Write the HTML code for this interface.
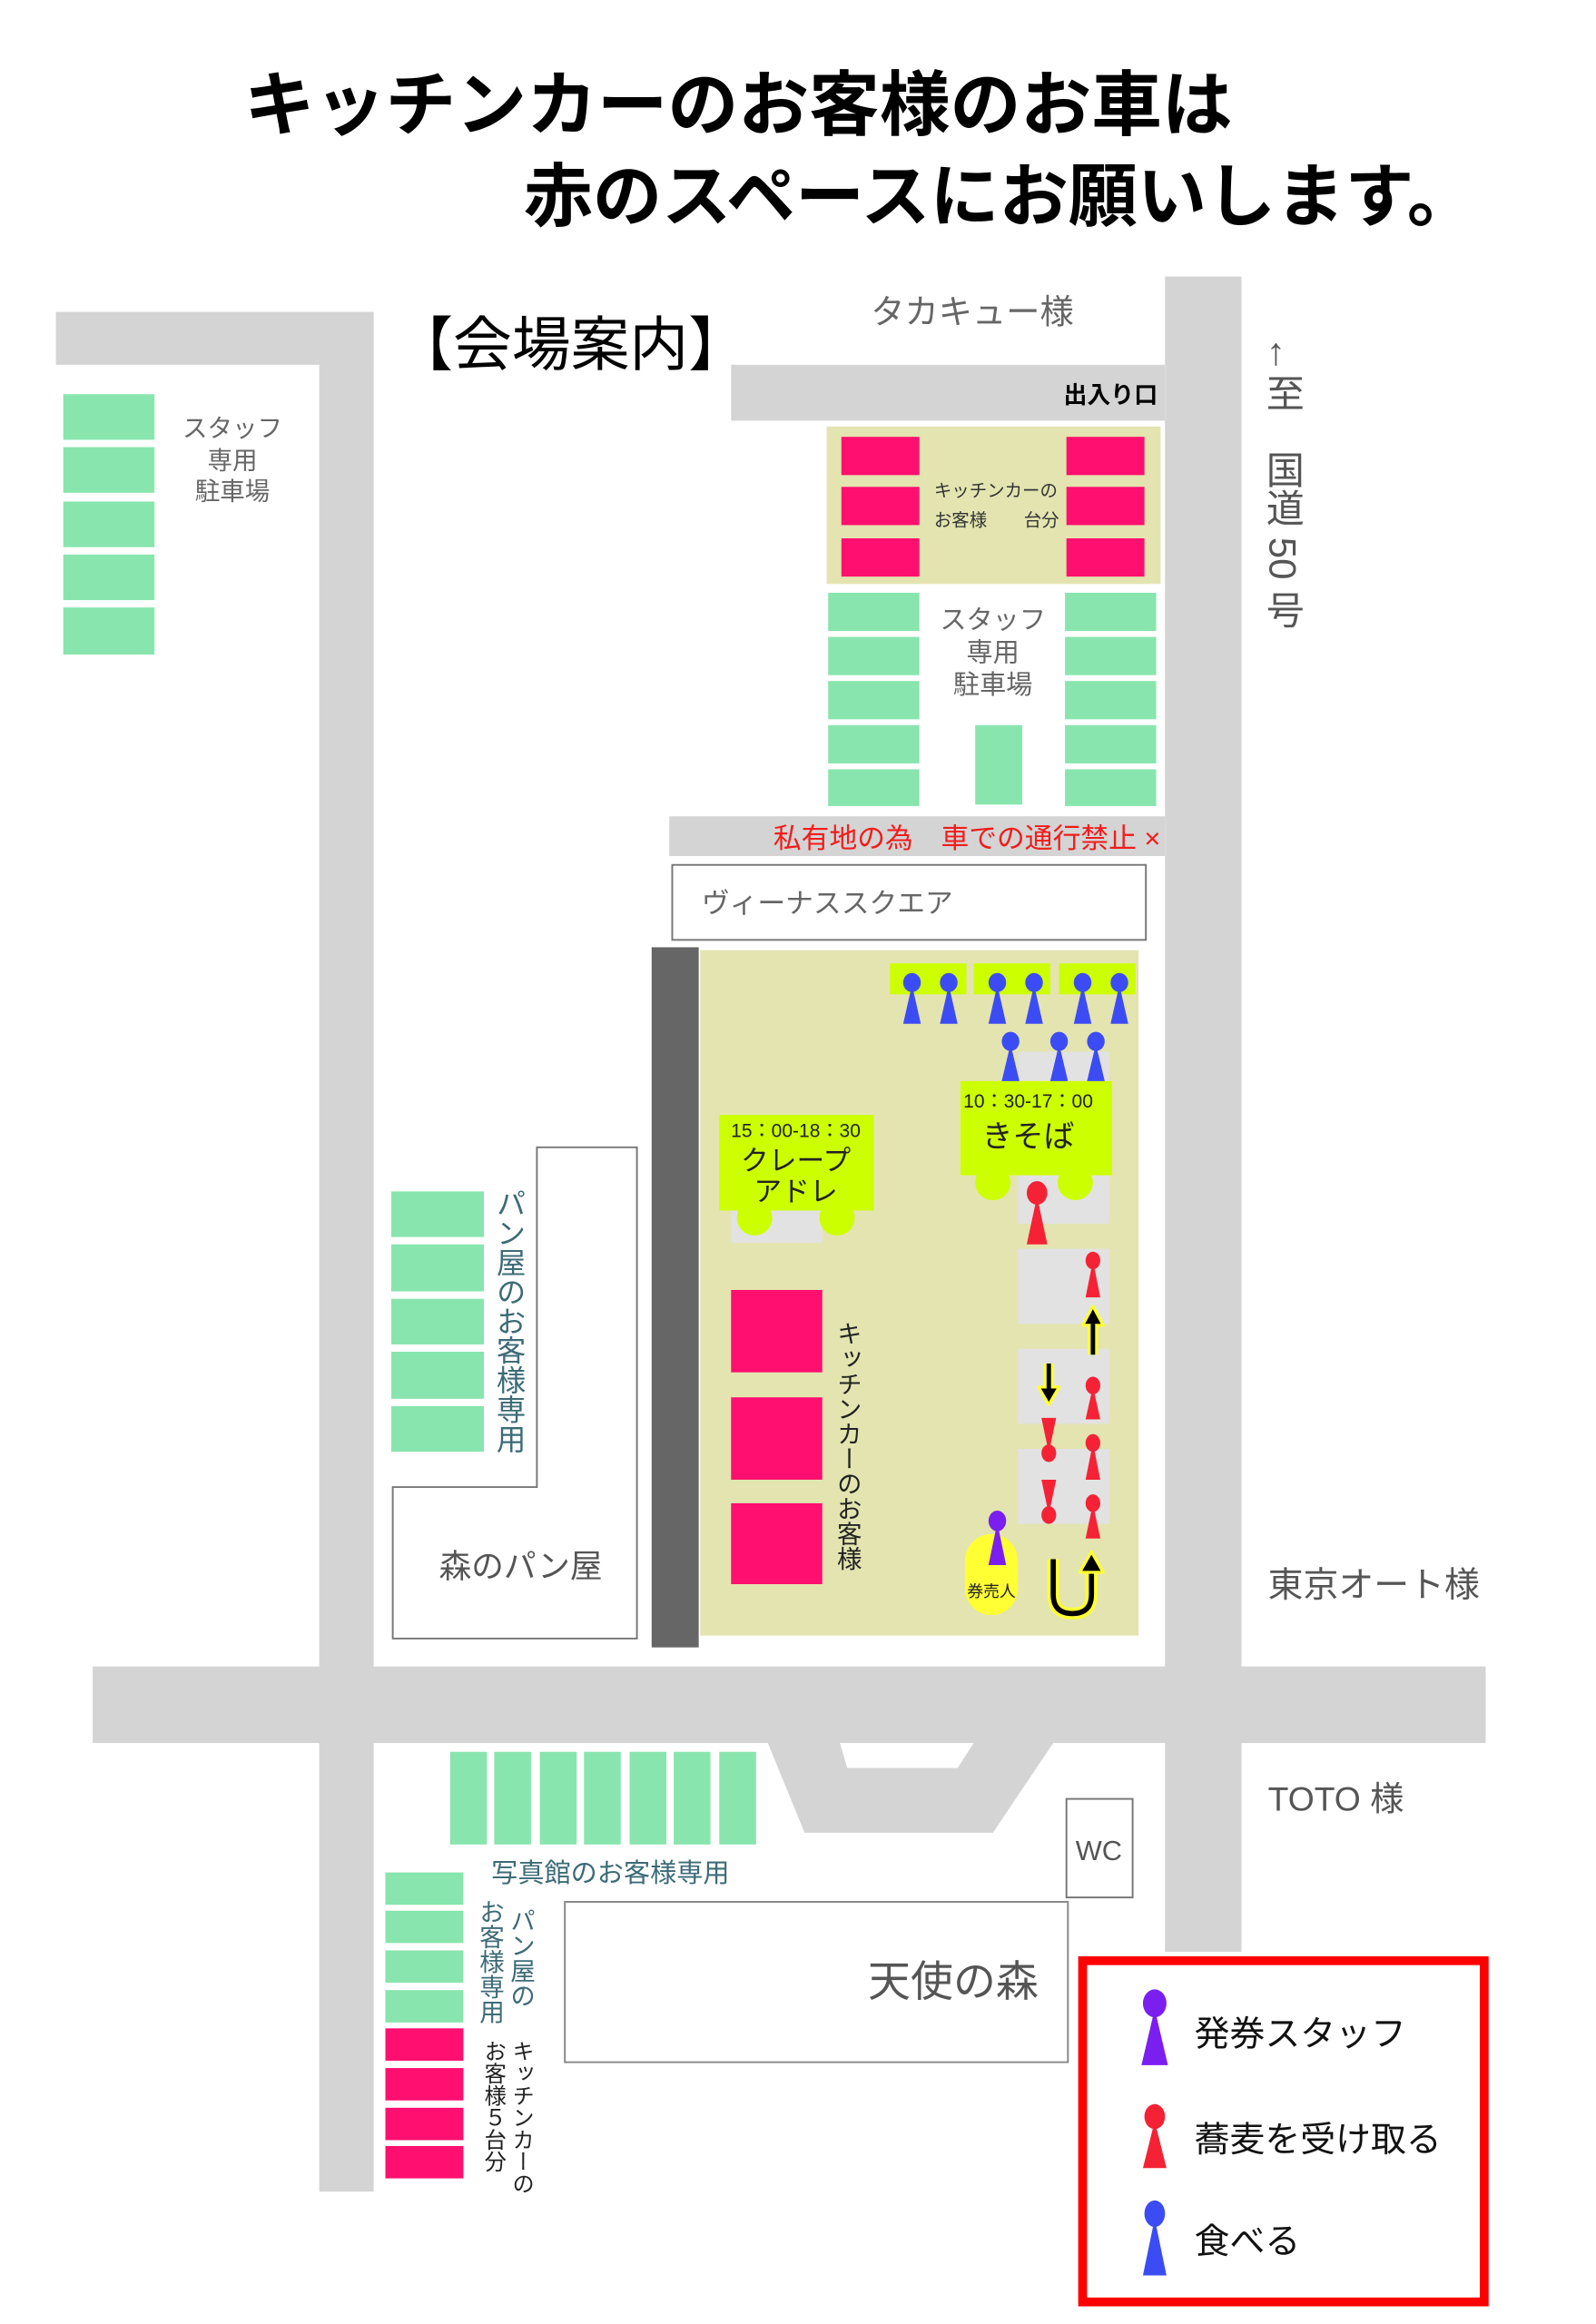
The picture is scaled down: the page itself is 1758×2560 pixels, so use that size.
<!DOCTYPE html>
<html><head><meta charset="utf-8"><style>
html,body{margin:0;padding:0;background:#fff;}
svg{display:block;}
text{font-family:"Liberation Sans","Noto Sans CJK JP",sans-serif;}
.v{writing-mode:vertical-rl;}
</style></head><body>
<svg width="1758" height="2560" viewBox="0 0 1085 1580" xmlns="http://www.w3.org/2000/svg">
<rect width="1085" height="1580" fill="#fff"/>
<text x="166" y="88" font-size="48" font-weight="bold" fill="#000">キッチンカーのお客様のお車は</text>
<text x="356" y="150" font-size="47" font-weight="bold" fill="#000">赤のスペースにお願いします。</text>

<g fill="#d4d4d4">
<rect x="38" y="212" width="216" height="36"/>
<rect x="217" y="212" width="37" height="1278"/>
<rect x="792" y="188" width="52" height="1139"/>
<rect x="497" y="248" width="295" height="38"/>
<rect x="455" y="555" width="337" height="27"/>
<rect x="63" y="1133" width="947" height="52"/>
<polygon points="522,1185 716,1185 675,1246 547,1246"/>
</g>
<polygon points="571,1185 662,1185 651,1202 576,1202" fill="#fff"/>

<text x="268" y="248" font-size="40" fill="#000">【会場案内】</text>
<text x="592" y="220" font-size="23" fill="#666">タカキュー様</text>
<text x="787" y="274" font-size="16" font-weight="bold" fill="#000" text-anchor="end">出入り口</text>
<text x="872" y="228" font-size="26" fill="#555" class="v">←至　国道 50 号</text>

<g fill="#88e5ad">
<rect x="43" y="268" width="62" height="31"/>
<rect x="43" y="304" width="62" height="31"/>
<rect x="43" y="341" width="62" height="31"/>
<rect x="43" y="377" width="62" height="31"/>
<rect x="43" y="413" width="62" height="32"/>
</g>
<g font-size="17" fill="#666" text-anchor="middle" dominant-baseline="central">
<text x="158" y="291">スタッフ</text><text x="158" y="313">専用</text><text x="158" y="334">駐車場</text>
</g>

<rect x="562" y="290" width="227" height="107" fill="#e3e4b0"/>
<g fill="#ff0f6f">
<rect x="572" y="297" width="53" height="26"/><rect x="572" y="331" width="53" height="26"/><rect x="572" y="366" width="53" height="26"/>
<rect x="725" y="297" width="53" height="26"/><rect x="725" y="331" width="53" height="26"/><rect x="725" y="366" width="53" height="26"/>
</g>
<text x="677" y="334" font-size="12" fill="#333" text-anchor="middle" dominant-baseline="central">キッチンカーの</text>
<text x="635" y="354" font-size="12" fill="#333" dominant-baseline="central">お客様</text>
<text x="720" y="354" font-size="12" fill="#333" text-anchor="end" dominant-baseline="central">台分</text>

<g fill="#88e5ad">
<rect x="563" y="403" width="62" height="26"/><rect x="563" y="433" width="62" height="26"/><rect x="563" y="463" width="62" height="26"/><rect x="563" y="493" width="62" height="26"/><rect x="563" y="523" width="62" height="25"/>
<rect x="724" y="403" width="62" height="26"/><rect x="724" y="433" width="62" height="26"/><rect x="724" y="463" width="62" height="26"/><rect x="724" y="493" width="62" height="26"/><rect x="724" y="523" width="62" height="25"/>
<rect x="663" y="493" width="32" height="54"/>
</g>
<g font-size="18" fill="#666" text-anchor="middle" dominant-baseline="central">
<text x="675" y="422">スタッフ</text><text x="675" y="444">専用</text><text x="675" y="466">駐車場</text>
</g>
<text x="789" y="570" font-size="19" fill="#f21c1c" text-anchor="end" dominant-baseline="central">私有地の為　車での通行禁止 ×</text>

<rect x="457" y="588" width="322" height="51" fill="#fff" stroke="#777" stroke-width="1.2"/>
<text x="477" y="614" font-size="19" fill="#666" dominant-baseline="central">ヴィーナススクエア</text>

<rect x="443" y="644" width="32" height="476" fill="#666"/>
<rect x="476" y="646" width="298" height="466" fill="#e3e4b0"/>
<g fill="#ccff00">
<rect x="605" y="655" width="52" height="21"/><rect x="662" y="655" width="52" height="21"/><rect x="720" y="655" width="52" height="21"/>
</g>
<g fill="#e2e2e2">
<rect x="692" y="715" width="62" height="20"/>
<rect x="692" y="799" width="62" height="33"/>
<rect x="497" y="823" width="62" height="22"/>
<rect x="692" y="849" width="62" height="51"/>
<rect x="692" y="917" width="62" height="51"/>
<rect x="692" y="985" width="62" height="51"/>
</g>
<rect x="653" y="735" width="103" height="64" fill="#ccff00"/>
<circle cx="675" cy="804" r="12" fill="#ccff00"/><circle cx="731" cy="804" r="12" fill="#ccff00"/>
<text x="699" y="749" font-size="13" fill="#222" text-anchor="middle" dominant-baseline="central">10：30-17：00</text>
<text x="699" y="773" font-size="21" fill="#222" text-anchor="middle" dominant-baseline="central">きそば</text>
<rect x="489" y="758" width="105" height="65" fill="#ccff00"/>
<circle cx="513" cy="828" r="12" fill="#ccff00"/><circle cx="569" cy="828" r="12" fill="#ccff00"/>
<text x="541" y="769" font-size="13" fill="#222" text-anchor="middle" dominant-baseline="central">15：00-18：30</text>
<text x="541" y="789" font-size="19" fill="#222" text-anchor="middle" dominant-baseline="central">クレープ</text>
<text x="541" y="810" font-size="19" fill="#222" text-anchor="middle" dominant-baseline="central">アドレ</text>
<g fill="#ff0f6f">
<rect x="497" y="877" width="62" height="56"/><rect x="497" y="950" width="62" height="56"/><rect x="497" y="1022" width="62" height="55"/>
</g>
<text x="576" y="898" font-size="17" fill="#222" class="v">キッチンカーのお客様</text>

<g fill="#3c4cf5">
<ellipse cx="620" cy="668" rx="6" ry="6.5"/><polygon points="619,674 621,674 626,696 614,696"/>
<ellipse cx="645" cy="668" rx="6" ry="6.5"/><polygon points="644,674 646,674 651,696 639,696"/>
<ellipse cx="678" cy="668" rx="6" ry="6.5"/><polygon points="677,674 679,674 684,696 672,696"/>
<ellipse cx="703" cy="668" rx="6" ry="6.5"/><polygon points="702,674 704,674 709,696 697,696"/>
<ellipse cx="736" cy="668" rx="6" ry="6.5"/><polygon points="735,674 737,674 742,696 730,696"/>
<ellipse cx="761" cy="668" rx="6" ry="6.5"/><polygon points="760,674 762,674 767,696 755,696"/>
<ellipse cx="687" cy="708" rx="6" ry="6.5"/><polygon points="686,714 688,714 693,735 681,735"/>
<ellipse cx="720" cy="708" rx="6" ry="6.5"/><polygon points="719,714 721,714 726,735 714,735"/>
<ellipse cx="745" cy="708" rx="6" ry="6.5"/><polygon points="744,714 746,714 751,735 739,735"/>
</g>
<g fill="#f52235">
<ellipse cx="705" cy="811" rx="7" ry="8"/><polygon points="704,818 706,818 712,846 698,846"/>
<ellipse cx="743" cy="857" rx="5" ry="6"/><polygon points="742,862 744,862 748,882 738,882"/>
<ellipse cx="743" cy="942" rx="5" ry="6"/><polygon points="742,947 744,947 748,965 738,965"/>
<ellipse cx="743" cy="981" rx="5" ry="6"/><polygon points="742,986 744,986 748,1006 738,1006"/>
<ellipse cx="743" cy="1022" rx="5" ry="6"/><polygon points="742,1027 744,1027 748,1046 738,1046"/>
<polygon points="708,964 718,964 714,983 712,983"/><ellipse cx="713" cy="988" rx="5" ry="6"/>
<polygon points="708,1006 718,1006 714,1025 712,1025"/><ellipse cx="713" cy="1030" rx="5" ry="6"/>
</g>
<g stroke-linejoin="round">
<path d="M743,921 L743,900" stroke="#ffff33" stroke-width="7"/>
<polygon points="736,901 750,901 743,888" fill="#000" stroke="#ffff33" stroke-width="2"/>
<path d="M743,921 L743,900" stroke="#000" stroke-width="3"/>
<path d="M713,927 L713,944" stroke="#ffff33" stroke-width="7"/>
<polygon points="706,943 720,943 713,955" fill="#000" stroke="#ffff33" stroke-width="2"/>
<path d="M713,927 L713,944" stroke="#000" stroke-width="3"/>
<path d="M716,1060 L716,1084 Q716,1097 729,1097 Q742,1097 742,1084 L742,1068" fill="none" stroke="#ffff33" stroke-width="8"/>
<path d="M716,1060 L716,1084 Q716,1097 729,1097 Q742,1097 742,1084 L742,1068" fill="none" stroke="#000" stroke-width="3.5"/>
<polygon points="734,1069 750,1069 742,1055" fill="#000" stroke="#ffff33" stroke-width="2"/>
</g>
<rect x="656" y="1043" width="36" height="55" rx="18" fill="#ffff33"/>
<ellipse cx="678" cy="1034" rx="6" ry="7" fill="#7a1ff0"/><polygon points="677,1040 679,1040 684,1064 672,1064" fill="#7a1ff0"/>
<text x="674" y="1082" font-size="11" fill="#222" text-anchor="middle" dominant-baseline="central">券売人</text>

<polygon points="365,780 433,780 433,1114 267,1114 267,1011 365,1011" fill="#fff" stroke="#777" stroke-width="1.2"/>
<g fill="#88e5ad">
<rect x="266" y="810" width="63" height="31"/><rect x="266" y="846" width="63" height="32"/><rect x="266" y="883" width="63" height="31"/><rect x="266" y="919" width="63" height="32"/><rect x="266" y="956" width="63" height="31"/>
</g>
<text x="346" y="808" font-size="20" fill="#3d6b77" class="v">パン屋のお客様専用</text>
<text x="354" y="1065" font-size="22" fill="#555" text-anchor="middle" dominant-baseline="central">森のパン屋</text>
<text x="862" y="1078" font-size="24" fill="#555" dominant-baseline="central">東京オート様</text>

<g fill="#88e5ad">
<rect x="306" y="1191" width="25" height="63"/><rect x="336" y="1191" width="25" height="63"/><rect x="367" y="1191" width="25" height="63"/><rect x="397" y="1191" width="25" height="63"/><rect x="428" y="1191" width="25" height="63"/><rect x="458" y="1191" width="25" height="63"/><rect x="489" y="1191" width="25" height="63"/>
<rect x="262" y="1273" width="53" height="22"/><rect x="262" y="1299" width="53" height="22"/><rect x="262" y="1326" width="53" height="22"/><rect x="262" y="1353" width="53" height="22"/>
</g>
<g fill="#ff0f6f">
<rect x="262" y="1379" width="53" height="22"/><rect x="262" y="1406" width="53" height="22"/><rect x="262" y="1433" width="53" height="22"/><rect x="262" y="1459" width="53" height="22"/>
</g>
<text x="334" y="1274" font-size="18" fill="#3d6b77" dominant-baseline="central">写真館のお客様専用</text>
<text x="354" y="1297" font-size="17" fill="#3d6b77" class="v">パン屋の</text>
<text x="333" y="1291" font-size="17" fill="#3d6b77" class="v">お客様専用</text>
<text x="354" y="1387" font-size="15" fill="#222" class="v">キッチンカーの</text>
<text x="335" y="1387" font-size="15" fill="#222" class="v">お客様５台分</text>

<rect x="725" y="1223" width="45" height="67" fill="#fff" stroke="#777" stroke-width="1.2"/>
<text x="747" y="1258" font-size="19" fill="#555" text-anchor="middle" dominant-baseline="central">WC</text>
<text x="862" y="1223" font-size="23" fill="#555" dominant-baseline="central">TOTO 様</text>

<rect x="384" y="1293" width="342" height="109" fill="#fff" stroke="#888" stroke-width="1.2"/>
<text x="706" y="1347" font-size="29" fill="#555" text-anchor="end" dominant-baseline="central">天使の森</text>

<rect x="736" y="1333" width="273" height="232" fill="#fff" stroke="#ff0000" stroke-width="6"/>
<ellipse cx="785" cy="1362" rx="8" ry="9.5" fill="#7a1ff0"/><polygon points="784,1370 786,1370 794,1404 776,1404" fill="#7a1ff0"/>
<text x="812" y="1383" font-size="24" fill="#111" dominant-baseline="central">発券スタッフ</text>
<ellipse cx="785" cy="1439" rx="7" ry="8.5" fill="#f52235"/><polygon points="784,1446 786,1446 793,1474 777,1474" fill="#f52235"/>
<text x="812" y="1455" font-size="24" fill="#111" dominant-baseline="central">蕎麦を受け取る</text>
<ellipse cx="785" cy="1505" rx="7" ry="9" fill="#3c4cf5"/><polygon points="784,1513 786,1513 793,1547 777,1547" fill="#3c4cf5"/>
<text x="812" y="1524" font-size="24" fill="#111" dominant-baseline="central">食べる</text>
</svg>
</body></html>
